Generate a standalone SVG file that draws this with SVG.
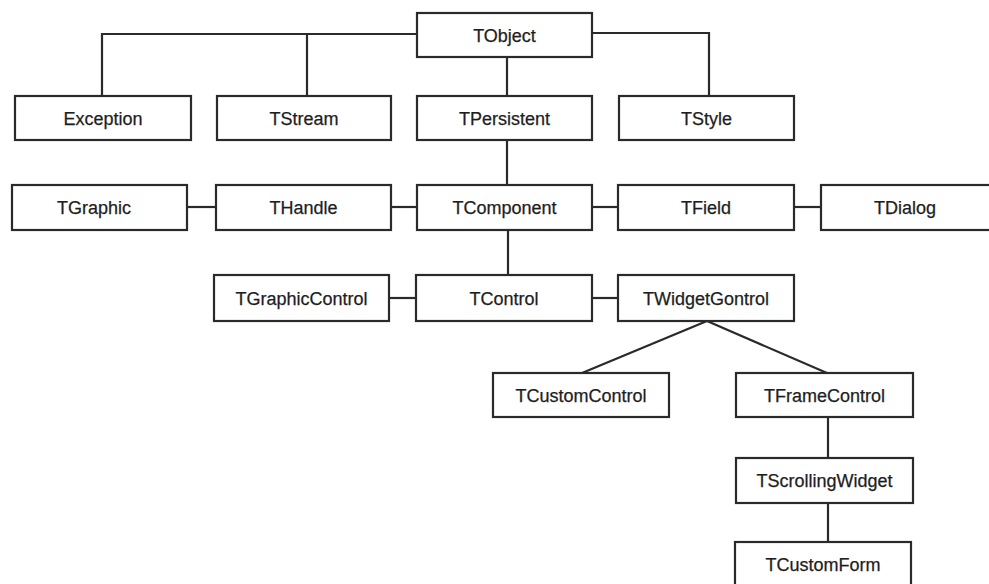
<svg xmlns="http://www.w3.org/2000/svg" width="989" height="584" viewBox="0 0 989 584">
<style>
.box{fill:#fff;stroke:#2a2a2a;stroke-width:2.2}
.lbl{font-family:"Liberation Sans",Arial,sans-serif;font-size:18px;fill:#1e1e1e;text-anchor:middle;stroke:#1e1e1e;stroke-width:0.25}
.con{fill:none;stroke:#2a2a2a;stroke-width:2.2}
</style>
<rect width="989" height="584" fill="#fff"/>
<g id="connectors">
<path class="con" d="M417,34 H102 V96"/>
<path class="con" d="M307,34 V96"/>
<path class="con" d="M592,33 H709 V96"/>
<path class="con" d="M507,57 V96"/>
<path class="con" d="M507,140 V185"/>
<path class="con" d="M187,207 H216"/>
<path class="con" d="M391,207 H417"/>
<path class="con" d="M592,207 H618"/>
<path class="con" d="M794,207 H821"/>
<path class="con" d="M508,230 V275"/>
<path class="con" d="M389,298 H416"/>
<path class="con" d="M592,298 H618"/>
<path class="con" d="M707,321 L582,373"/>
<path class="con" d="M707,321 L827,373"/>
<path class="con" d="M828,417 V458"/>
<path class="con" d="M828,503 V542"/>
</g>
<g id="TObject"><rect class="box" x="417" y="13" width="175" height="44"/><text class="lbl" x="504.5" y="41.5">TObject</text></g>
<g id="Exception"><rect class="box" x="15" y="96" width="176" height="44"/><text class="lbl" x="103" y="124.5">Exception</text></g>
<g id="TStream"><rect class="box" x="217" y="96" width="174" height="44"/><text class="lbl" x="304" y="124.5">TStream</text></g>
<g id="TPersistent"><rect class="box" x="417" y="96" width="175" height="44"/><text class="lbl" x="504.5" y="124.5">TPersistent</text></g>
<g id="TStyle"><rect class="box" x="619" y="96" width="175" height="44"/><text class="lbl" x="706.5" y="124.5">TStyle</text></g>
<g id="TGraphic"><rect class="box" x="12" y="185" width="175" height="45"/><text class="lbl" x="94" y="213.5">TGraphic</text></g>
<g id="THandle"><rect class="box" x="216" y="185" width="175" height="45"/><text class="lbl" x="303.5" y="213.5">THandle</text></g>
<g id="TComponent"><rect class="box" x="417" y="185" width="175" height="45"/><text class="lbl" x="504.5" y="213.5">TComponent</text></g>
<g id="TField"><rect class="box" x="618" y="185" width="176" height="45"/><text class="lbl" x="706" y="213.5">TField</text></g>
<g id="TDialog"><rect class="box" x="821" y="185" width="180" height="45"/><text class="lbl" x="905" y="213.5">TDialog</text></g>
<g id="TGraphicControl"><rect class="box" x="214" y="275" width="175" height="46"/><text class="lbl" x="301.5" y="304.5">TGraphicControl</text></g>
<g id="TControl"><rect class="box" x="416" y="275" width="176" height="46"/><text class="lbl" x="504" y="304.5">TControl</text></g>
<g id="TWidgetGontrol"><rect class="box" x="618" y="275" width="176" height="46"/><text class="lbl" x="706" y="304.5">TWidgetGontrol</text></g>
<g id="TCustomControl"><rect class="box" x="493" y="373" width="176" height="44"/><text class="lbl" x="581" y="401.5">TCustomControl</text></g>
<g id="TFrameControl"><rect class="box" x="736" y="373" width="177" height="44"/><text class="lbl" x="824.5" y="401.5">TFrameControl</text></g>
<g id="TScrollingWidget"><rect class="box" x="736" y="458" width="177" height="45"/><text class="lbl" x="824.5" y="486.5">TScrollingWidget</text></g>
<g id="TCustomForm"><rect class="box" x="735" y="542" width="176" height="50"/><text class="lbl" x="823" y="570.5">TCustomForm</text></g>
</svg>
